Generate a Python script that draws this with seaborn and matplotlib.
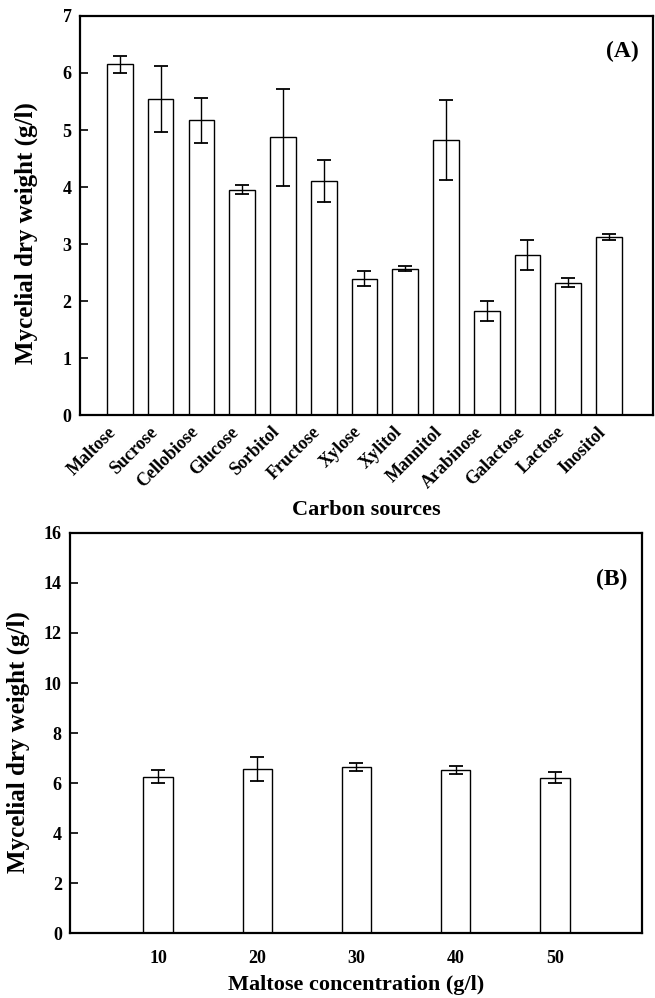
import matplotlib
matplotlib.use("Agg")
import matplotlib.pyplot as plt
import seaborn as sns
import numpy as np
import pandas as pd

# Panel A data
carbon_sources = ["Maltose", "Sucrose", "Cellobiose", "Glucose", "Sorbitol", "Fructose",
                  "Xylose", "Xylitol", "Mannitol", "Arabinose", "Galactose", "Lactose", "Inositol"]
carbon_means = [6.15, 5.55, 5.17, 3.95, 4.87, 4.10, 2.39, 2.57, 4.83, 1.83, 2.81, 2.32, 3.13]
carbon_err = [0.15, 0.58, 0.40, 0.08, 0.85, 0.37, 0.13, 0.04, 0.70, 0.18, 0.27, 0.08, 0.05]

# Panel B data
maltose_conc = [10, 20, 30, 40, 50]
maltose_means = [6.25, 6.57, 6.65, 6.52, 6.21]
maltose_err = [0.26, 0.48, 0.17, 0.17, 0.22]

sns.set_style("white")
plt.rcParams['font.family'] = ['Liberation Serif', 'DejaVu Serif']
plt.rcParams['font.weight'] = 'bold'
plt.rcParams['text.color'] = 'black'
plt.rcParams['axes.labelcolor'] = 'black'
plt.rcParams['xtick.color'] = 'black'
plt.rcParams['ytick.color'] = 'black'

fig = plt.figure(figsize=(6.55, 9.98), dpi=100)
axA = fig.add_axes([0.122, 0.584, 0.875, 0.400])
axB = fig.add_axes([0.107, 0.065, 0.873, 0.401])

dfA = pd.DataFrame({"src": carbon_sources, "val": carbon_means})
sns.barplot(data=dfA, x="src", y="val", ax=axA, color="white", edgecolor="black",
            linewidth=1.0, width=0.63, errorbar=None, saturation=1)
axA.errorbar(np.arange(len(carbon_sources)), carbon_means, yerr=carbon_err, fmt="none",
             ecolor="black", elinewidth=1.0, capsize=5, capthick=1.3)
axA.set_xlim(-0.98, 13.08)
axA.set_ylim(0, 7)
axA.set_yticks(range(0, 8))
axA.set_xlabel("Carbon sources", fontsize=16, fontweight="bold", labelpad=6)
axA.set_ylabel("Mycelial dry weight (g/l)", fontsize=18, fontweight="bold")
axA.yaxis.set_label_coords(-0.073, 0.456)
axA.set_xticks(range(len(carbon_sources)))
axA.set_xticklabels(carbon_sources, rotation=45, ha="right", va="top",
                    fontsize=13, fontweight="bold")
axA.text(0.975, 0.91, "(A)", transform=axA.transAxes, ha="right", va="center",
         fontsize=17, fontweight="bold")

dfB = pd.DataFrame({"conc": maltose_conc, "val": maltose_means})
sns.barplot(data=dfB, x="conc", y="val", ax=axB, native_scale=True, color="white",
            edgecolor="black", linewidth=1.0, width=0.3, errorbar=None, saturation=1)
axB.errorbar(maltose_conc, maltose_means, yerr=maltose_err, fmt="none",
             ecolor="black", elinewidth=1.0, capsize=5, capthick=1.3)
axB.set_xlim(1.1, 58.8)
axB.set_ylim(0, 16)
axB.set_yticks(range(0, 17, 2))
axB.set_xticks(maltose_conc)
axB.set_xticklabels([str(c) for c in maltose_conc], fontsize=13, fontweight="bold")
axB.set_xlabel("Maltose concentration (g/l)", fontsize=16, fontweight="bold", labelpad=6)
axB.set_ylabel("Mycelial dry weight (g/l)", fontsize=18, fontweight="bold")
axB.yaxis.set_label_coords(-0.070, 0.478)
axB.text(0.975, 0.885, "(B)", transform=axB.transAxes, ha="right", va="center",
         fontsize=17, fontweight="bold")

for ax in (axA, axB):
    for side, sp in ax.spines.items():
        sp.set_visible(True)
        sp.set_color("black")
        sp.set_linewidth(1.6)
    ax.tick_params(axis="y", direction="in", length=6, width=1.2, labelsize=13,
                   left=True, pad=6, colors="black")
    for lab in ax.get_yticklabels():
        lab.set_fontweight("bold")
axA.tick_params(axis="x", length=0, pad=6)
axB.tick_params(axis="x", length=0, pad=12)

fig.savefig("out.png", dpi=100, facecolor="white")
